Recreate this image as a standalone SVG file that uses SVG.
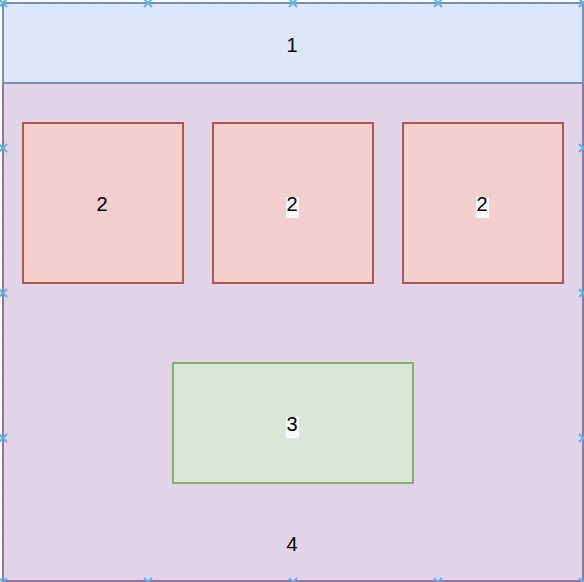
<svg xmlns="http://www.w3.org/2000/svg" width="584" height="582" viewBox="0 0 584 582">
<style>
.lbl{font-family:"Liberation Sans",Arial,sans-serif;font-size:20px;fill:#000;text-anchor:middle}
.blue{fill:#dce8fa;stroke:#7890c0;stroke-width:2}
.purple{fill:#e1d5e7;stroke:#9077a8;stroke-width:2}
.red{fill:#f3d0cd;stroke:#b5534f;stroke-width:2}
.green{fill:#d8e7d6;stroke:#86b06b;stroke-width:2}
.bg{fill:#f8fafd}
.pt{stroke:#5cb4ef;stroke-width:2;fill:none}
</style>
<defs>
<pattern id="grid" x="2" y="2" width="20" height="20" patternUnits="userSpaceOnUse">
<path d="M0 0H20M0 0V20" stroke="#efefef" stroke-width="1" fill="none"/>
</pattern>
<path id="x" class="pt" d="M-4 -4L4 4M-4 4L4 -4"/>
</defs>
<rect width="584" height="582" fill="#ffffff"/>
<rect width="584" height="582" fill="url(#grid)"/>
<g id="node4">
<rect class="purple" x="3" y="83" width="580" height="498"/>
<text class="lbl" x="292" y="551">4</text>
</g>
<g id="node1">
<rect class="blue" x="3" y="3" width="580" height="80"/>
<text class="lbl" x="292" y="52">1</text>
</g>
<g id="node2a">
<rect class="red" x="23" y="123" width="160" height="160"/>
<text class="lbl" x="102" y="211">2</text>
</g>
<g id="node2b">
<rect class="red" x="213" y="123" width="160" height="160"/>
<rect class="bg" x="286" y="197" width="13" height="21"/>
<text class="lbl" x="292" y="211">2</text>
</g>
<g id="node2c">
<rect class="red" x="403" y="123" width="160" height="160"/>
<rect class="bg" x="476" y="197" width="13" height="21"/>
<text class="lbl" x="482" y="211">2</text>
</g>
<g id="node3">
<rect class="green" x="173" y="363" width="240" height="120"/>
<rect class="bg" x="286" y="417" width="13" height="21"/>
<text class="lbl" x="292" y="431">3</text>
</g>
<g id="connectors">
<use href="#x" x="3" y="3"/>
<use href="#x" x="148" y="3"/>
<use href="#x" x="293" y="3"/>
<use href="#x" x="438" y="3"/>
<use href="#x" x="583" y="3"/>
<use href="#x" x="3" y="148"/>
<use href="#x" x="3" y="293"/>
<use href="#x" x="3" y="438"/>
<use href="#x" x="583" y="148"/>
<use href="#x" x="583" y="293"/>
<use href="#x" x="583" y="438"/>
<use href="#x" x="3" y="582"/>
<use href="#x" x="148" y="582"/>
<use href="#x" x="293" y="582"/>
<use href="#x" x="438" y="582"/>
<use href="#x" x="583" y="582"/>
</g>
</svg>
